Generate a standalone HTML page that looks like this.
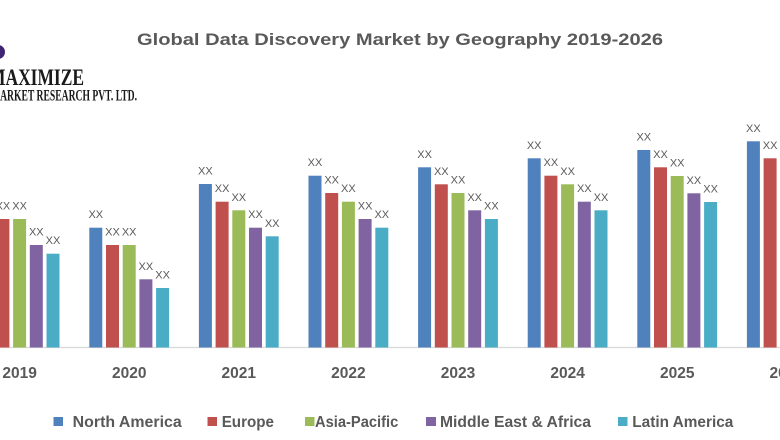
<!DOCTYPE html>
<html>
<head>
<meta charset="utf-8">
<style>
html,body{margin:0;padding:0;background:#fff;}
svg{display:block;}
</style>
</head>
<body>
<svg width="780" height="440" viewBox="0 0 780 440" xmlns="http://www.w3.org/2000/svg" font-family="Liberation Sans, Arial, sans-serif">
<rect width="780" height="440" fill="#fff"/>
<!-- logo -->
<circle cx="-2" cy="52" r="7" fill="#3e2472"/>
<text x="-11" y="85" font-family="Liberation Serif, serif" font-weight="bold" font-size="23" fill="#1a1a1a" textLength="95" lengthAdjust="spacingAndGlyphs">MAXIMIZE</text>
<text x="-9" y="100.5" font-family="Liberation Serif, serif" font-weight="bold" font-size="15.5" fill="#1a1a1a" textLength="146" lengthAdjust="spacingAndGlyphs">MARKET RESEARCH PVT. LTD.</text>
<!-- title -->
<text x="137" y="45" font-weight="bold" font-size="17" fill="#595959" textLength="526" lengthAdjust="spacingAndGlyphs">Global Data Discovery Market by Geography 2019-2026</text>
<!-- axis -->
<line x1="0" y1="347.5" x2="780" y2="347.5" stroke="#d9d9d9" stroke-width="1.2"/>
<g id="bars"></g>
<g font-size="11" fill="#595959" text-anchor="middle" id="labels"></g>
<g font-size="15.5" font-weight="bold" fill="#595959" text-anchor="middle" id="years"></g>
<!-- legend -->
<g font-size="15.5" font-weight="bold" fill="#595959">
<rect x="53.5" y="417" width="9.5" height="9" fill="#4f81bd"/>
<text x="72.7" y="427" textLength="109" lengthAdjust="spacingAndGlyphs">North America</text>
<rect x="207.5" y="417" width="9.5" height="9" fill="#c0504d"/>
<text x="221.7" y="427" textLength="52.3" lengthAdjust="spacingAndGlyphs">Europe</text>
<rect x="305" y="417" width="9.5" height="9" fill="#9bbb59"/>
<text x="315" y="427" textLength="83.3" lengthAdjust="spacingAndGlyphs">Asia-Pacific</text>
<rect x="426" y="417" width="10" height="9" fill="#8064a2"/>
<text x="440" y="427" textLength="151" lengthAdjust="spacingAndGlyphs">Middle East &amp; Africa</text>
<rect x="618" y="417" width="9.5" height="9" fill="#4bacc6"/>
<text x="632.3" y="427" textLength="101" lengthAdjust="spacingAndGlyphs">Latin America</text>
</g>
<!-- static bars -->
<g>
<!-- 2019 (start -20.3) -->
<rect x="-20.3" y="201.7" width="13" height="145.8" fill="#4f81bd"/>
<rect x="-3.6" y="219" width="13" height="128.5" fill="#c0504d"/>
<rect x="13.1" y="219" width="13" height="128.5" fill="#9bbb59"/>
<rect x="29.8" y="245" width="13" height="102.5" fill="#8064a2"/>
<rect x="46.5" y="253.7" width="13" height="93.8" fill="#4bacc6"/>
<!-- 2020 (89.3) -->
<rect x="89.3" y="227.7" width="13" height="119.8" fill="#4f81bd"/>
<rect x="106" y="245" width="13" height="102.5" fill="#c0504d"/>
<rect x="122.7" y="245" width="13" height="102.5" fill="#9bbb59"/>
<rect x="139.4" y="279.3" width="13" height="68.2" fill="#8064a2"/>
<rect x="156.1" y="288" width="13" height="59.5" fill="#4bacc6"/>
<!-- 2021 (198.9) -->
<rect x="198.9" y="184" width="13" height="163.5" fill="#4f81bd"/>
<rect x="215.6" y="201.7" width="13" height="145.8" fill="#c0504d"/>
<rect x="232.3" y="210.3" width="13" height="137.2" fill="#9bbb59"/>
<rect x="249" y="227.7" width="13" height="119.8" fill="#8064a2"/>
<rect x="265.7" y="236.3" width="13" height="111.2" fill="#4bacc6"/>
<!-- 2022 (308.5) -->
<rect x="308.5" y="175.7" width="13" height="171.8" fill="#4f81bd"/>
<rect x="325.2" y="193" width="13" height="154.5" fill="#c0504d"/>
<rect x="341.9" y="201.7" width="13" height="145.8" fill="#9bbb59"/>
<rect x="358.6" y="219" width="13" height="128.5" fill="#8064a2"/>
<rect x="375.3" y="227.7" width="13" height="119.8" fill="#4bacc6"/>
<!-- 2023 (418.1) -->
<rect x="418.1" y="167.3" width="13" height="180.2" fill="#4f81bd"/>
<rect x="434.8" y="184.3" width="13" height="163.2" fill="#c0504d"/>
<rect x="451.5" y="193" width="13" height="154.5" fill="#9bbb59"/>
<rect x="468.2" y="210.3" width="13" height="137.2" fill="#8064a2"/>
<rect x="484.9" y="219" width="13" height="128.5" fill="#4bacc6"/>
<!-- 2024 (527.7) -->
<rect x="527.7" y="158.3" width="13" height="189.2" fill="#4f81bd"/>
<rect x="544.4" y="175.7" width="13" height="171.8" fill="#c0504d"/>
<rect x="561.1" y="184.3" width="13" height="163.2" fill="#9bbb59"/>
<rect x="577.8" y="201.7" width="13" height="145.8" fill="#8064a2"/>
<rect x="594.5" y="210.3" width="13" height="137.2" fill="#4bacc6"/>
<!-- 2025 (637.3) -->
<rect x="637.3" y="150" width="13" height="197.5" fill="#4f81bd"/>
<rect x="654" y="167.3" width="13" height="180.2" fill="#c0504d"/>
<rect x="670.7" y="176" width="13" height="171.5" fill="#9bbb59"/>
<rect x="687.4" y="193.3" width="13" height="154.2" fill="#8064a2"/>
<rect x="704.1" y="202" width="13" height="145.5" fill="#4bacc6"/>
<!-- 2026 (746.9) -->
<rect x="746.9" y="141.3" width="13" height="206.2" fill="#4f81bd"/>
<rect x="763.6" y="158.3" width="13" height="189.2" fill="#c0504d"/>
<rect x="780.3" y="167" width="13" height="180.5" fill="#9bbb59"/>
</g>
<!-- value labels -->
<g font-size="11" fill="#595959" text-anchor="middle">
<text x="2.9" y="209.5">XX</text><text x="19.6" y="209.5">XX</text><text x="36.3" y="235.5">XX</text><text x="53" y="244.2">XX</text>
<text x="95.8" y="218.2">XX</text><text x="112.5" y="235.5">XX</text><text x="129.2" y="235.5">XX</text><text x="145.9" y="269.8">XX</text><text x="162.6" y="278.5">XX</text>
<text x="205.4" y="174.5">XX</text><text x="222.1" y="192.2">XX</text><text x="238.8" y="200.8">XX</text><text x="255.5" y="218.2">XX</text><text x="272.2" y="226.8">XX</text>
<text x="315" y="166.2">XX</text><text x="331.7" y="183.5">XX</text><text x="348.4" y="192.2">XX</text><text x="365.1" y="209.5">XX</text><text x="381.8" y="218.2">XX</text>
<text x="424.6" y="157.8">XX</text><text x="441.3" y="174.8">XX</text><text x="458" y="183.5">XX</text><text x="474.7" y="200.8">XX</text><text x="491.4" y="209.5">XX</text>
<text x="534.2" y="148.8">XX</text><text x="550.9" y="166.2">XX</text><text x="567.6" y="174.8">XX</text><text x="584.3" y="192.2">XX</text><text x="601" y="200.8">XX</text>
<text x="643.8" y="140.5">XX</text><text x="660.5" y="157.8">XX</text><text x="677.2" y="166.5">XX</text><text x="693.9" y="183.8">XX</text><text x="710.6" y="192.5">XX</text>
<text x="753.4" y="131.8">XX</text><text x="770.1" y="148.8">XX</text>
</g>
<!-- year labels -->
<g font-size="15.5" font-weight="bold" fill="#595959" text-anchor="middle">
<text x="19.6" y="378">2019</text>
<text x="129.2" y="378">2020</text>
<text x="238.8" y="378">2021</text>
<text x="348.4" y="378">2022</text>
<text x="458" y="378">2023</text>
<text x="567.6" y="378">2024</text>
<text x="677.2" y="378">2025</text>
<text x="786.8" y="378">2026</text>
</g>
</svg>
</body>
</html>
